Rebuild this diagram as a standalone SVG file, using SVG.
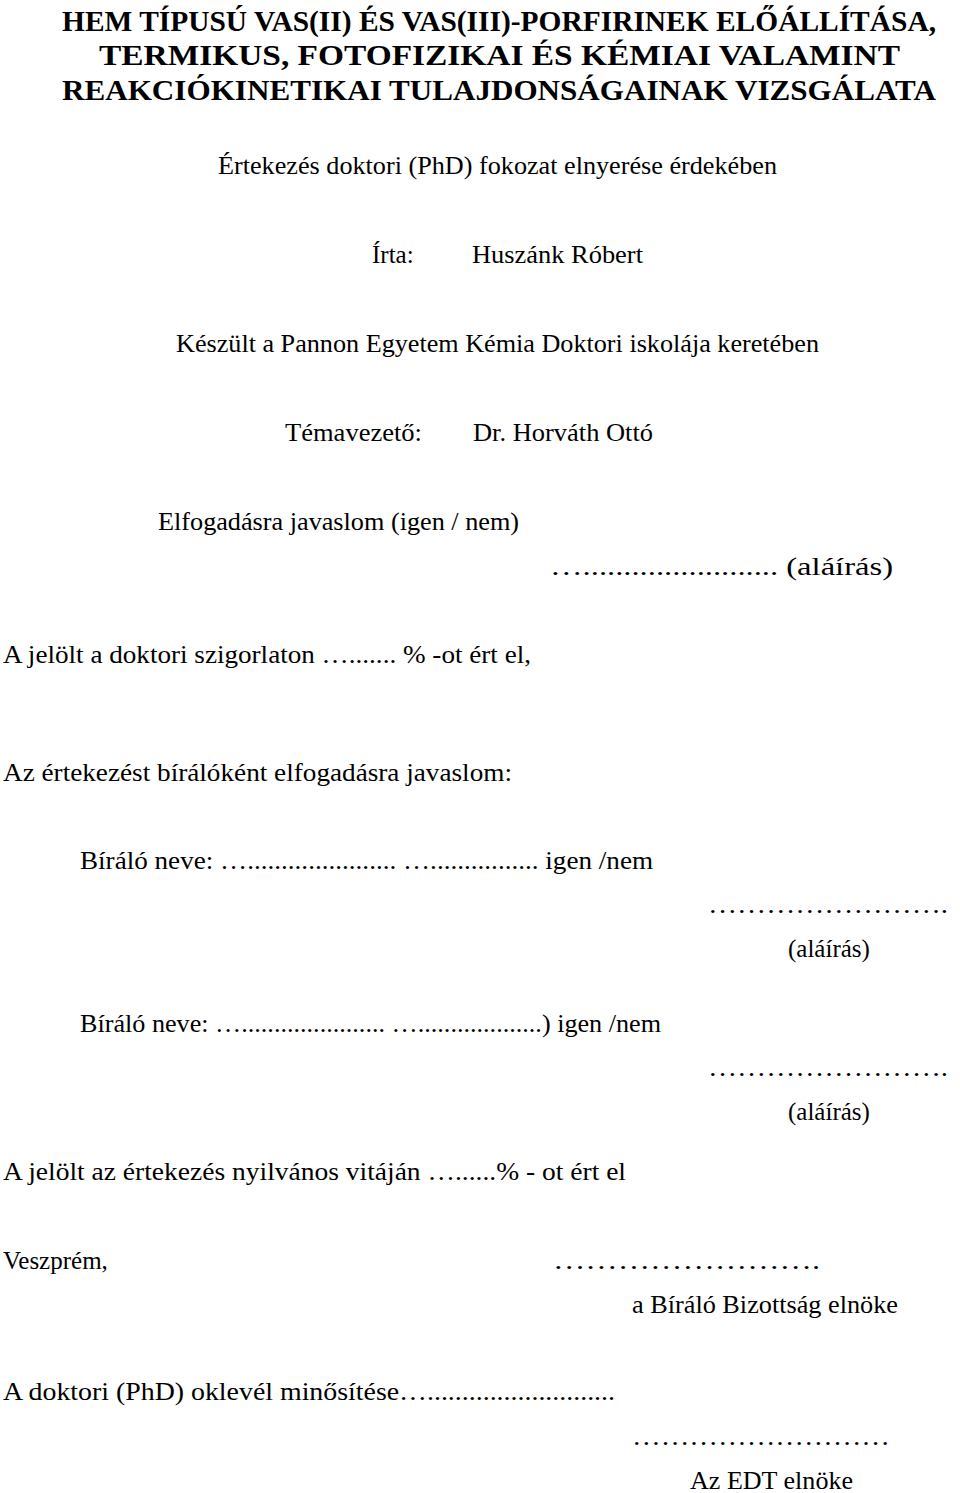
<svg xmlns="http://www.w3.org/2000/svg" width="960" height="1493" viewBox="0 0 960 1493">
<style>
text{font-family:"Liberation Serif","Times New Roman",serif;font-size:25px;fill:#000}
.t{font-weight:bold;font-size:29px}
</style>
<rect width="960" height="1493" fill="#fff"/>
<g id="title">
<text class="t" x="62" y="31" textLength="874" lengthAdjust="spacingAndGlyphs">HEM TÍPUSÚ VAS(II) ÉS VAS(III)-PORFIRINEK ELŐÁLLÍTÁSA,</text>
<text class="t" x="99" y="65" textLength="801" lengthAdjust="spacingAndGlyphs">TERMIKUS, FOTOFIZIKAI ÉS KÉMIAI VALAMINT</text>
<text class="t" x="62" y="100" textLength="874" lengthAdjust="spacingAndGlyphs">REAKCIÓKINETIKAI TULAJDONSÁGAINAK VIZSGÁLATA</text>
</g>
<g id="body">
<text x="218" y="174" textLength="559" lengthAdjust="spacingAndGlyphs">Értekezés doktori (PhD) fokozat elnyerése érdekében</text>
<text x="372" y="263">Írta:</text>
<text x="472" y="263" textLength="171" lengthAdjust="spacingAndGlyphs">Huszánk Róbert</text>
<text x="176" y="352" textLength="643" lengthAdjust="spacingAndGlyphs">Készült a Pannon Egyetem Kémia Doktori iskolája keretében</text>
<text x="285" y="441" textLength="137" lengthAdjust="spacingAndGlyphs">Témavezető:</text>
<text x="473" y="441" textLength="180" lengthAdjust="spacingAndGlyphs">Dr. Horváth Ottó</text>
<text x="158" y="530" textLength="361" lengthAdjust="spacingAndGlyphs">Elfogadásra javaslom (igen / nem)</text>
<text x="550" y="575" textLength="343" lengthAdjust="spacingAndGlyphs">…........................ (aláírás)</text>
<text x="3" y="663" textLength="528" lengthAdjust="spacingAndGlyphs">A jelölt a doktori szigorlaton …....... % -ot ért el,</text>
<text x="3" y="781" textLength="509" lengthAdjust="spacingAndGlyphs">Az értekezést bírálóként elfogadásra javaslom:</text>
<text x="80" y="869" textLength="573" lengthAdjust="spacingAndGlyphs">Bíráló neve: …...................... …................ igen /nem</text>
<text x="708" y="913" textLength="240" lengthAdjust="spacingAndGlyphs">…………………….</text>
<text x="788" y="957">(aláírás)</text>
<text x="80" y="1032" textLength="581" lengthAdjust="spacingAndGlyphs">Bíráló neve: …...................... …...................) igen /nem</text>
<text x="708" y="1076" textLength="240" lengthAdjust="spacingAndGlyphs">…………………….</text>
<text x="788" y="1120">(aláírás)</text>
<text x="3" y="1180" textLength="623" lengthAdjust="spacingAndGlyphs">A jelölt az értekezés nyilvános vitáján …......% - ot ért el</text>
<text x="3" y="1269">Veszprém,</text>
<text x="553" y="1269" textLength="267" lengthAdjust="spacingAndGlyphs">…………………….</text>
<text x="632" y="1313" textLength="266" lengthAdjust="spacingAndGlyphs">a Bíráló Bizottság elnöke</text>
<text x="3" y="1400" textLength="612" lengthAdjust="spacingAndGlyphs">A doktori (PhD) oklevél minősítése…...........................</text>
<text x="632" y="1445" textLength="258" lengthAdjust="spacingAndGlyphs">………………………</text>
<text x="690" y="1489" textLength="163" lengthAdjust="spacingAndGlyphs">Az EDT elnöke</text>
</g>
</svg>
